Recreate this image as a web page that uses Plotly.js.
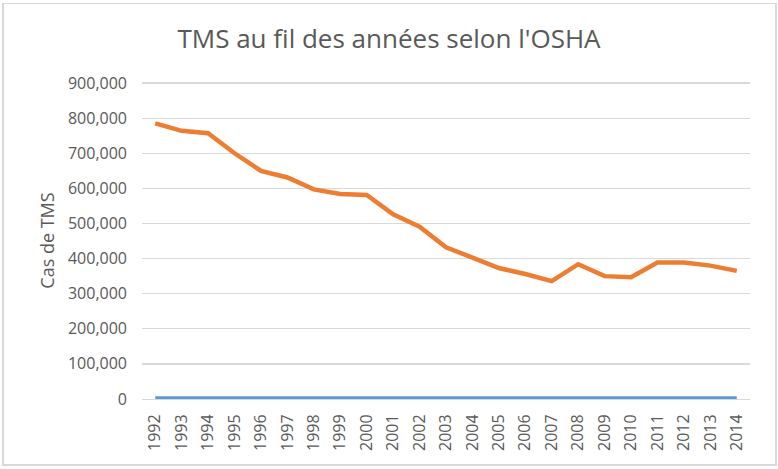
<!DOCTYPE html>
<html>
<head>
<meta charset="utf-8">
<script src="https://cdn.plot.ly/plotly-3.0.1.min.js"></script>
<style>
  html, body { margin: 0; padding: 0; background: #fff; }
  #frame { position: absolute; left: 2px; top: 3px; width: 771px; height: 460px; border: 2px solid #d9d9d9; border-top-width: 1px; }
  #chart { position: absolute; left: 0; top: 0; width: 778px; height: 469px; }
</style>
</head>
<body>
<div id="frame"></div>
<div id="chart"></div>
<script>
const years = ["1992","1993","1994","1995","1996","1997","1998","1999","2000","2001","2002","2003",
               "2004","2005","2006","2007","2008","2009","2010","2011","2012","2013","2014"];
const casTMS = [785000, 764000, 757000, 700000, 650000, 631000, 597000, 584000, 581000, 526000, 491000, 432000,
                403000, 373000, 356000, 336000, 384000, 350000, 347000, 389000, 389000, 380000, 365000];
const anneeSerie = [1992, 1993, 1994, 1995, 1996, 1997, 1998, 1999, 2000, 2001, 2002, 2003,
                    2004, 2005, 2006, 2007, 2008, 2009, 2010, 2011, 2012, 2013, 2014];
const yTicks = [0, 100000, 200000, 300000, 400000, 500000, 600000, 700000, 800000, 900000];

const font = "Open Sans, Liberation Sans, sans-serif";

const traces = [
  { x: years, y: anneeSerie, type: "scatter", mode: "lines",
    line: { color: "#5B9BD5", width: 4 }, hoverinfo: "skip", cliponaxis: false },
  { x: years, y: casTMS, type: "scatter", mode: "lines",
    line: { color: "#ED7D31", width: 4.5 }, hoverinfo: "skip" }
];

const layout = {
  width: 778, height: 469,
  paper_bgcolor: "rgba(0,0,0,0)", plot_bgcolor: "rgba(0,0,0,0)",
  margin: { l: 142, r: 28, t: 82, b: 70 },
  showlegend: false,
  title: { text: "TMS au fil des années selon l'OSHA", font: { family: font, size: 26, color: "#595959" },
           x: 0.5, xanchor: "center", y: 0.918, yanchor: "middle" },
  xaxis: {
    type: "category", tickangle: -90, range: [-0.5, 22.5],
    tickfont: { family: font, size: 16, color: "#595959" },
    showgrid: false, showline: true, linecolor: "#d9d9d9", linewidth: 1,
    ticks: "", ticklabelstandoff: 8, zeroline: false, fixedrange: true
  },
  yaxis: {
    range: [0, 903000], tickvals: yTicks, tickformat: ",d",
    tickfont: { family: font, size: 16, color: "#595959" },
    title: { text: "Cas de TMS", font: { family: font, size: 18, color: "#595959" }, standoff: 8 },
    showgrid: true, gridcolor: "#d9d9d9", gridwidth: 1.3,
    zeroline: false, showline: false, ticks: "", ticklen: 0, ticklabelstandoff: 14, fixedrange: true
  }
};

Plotly.newPlot("chart", traces, layout, { displayModeBar: false, staticPlot: true });
</script>
</body>
</html>
